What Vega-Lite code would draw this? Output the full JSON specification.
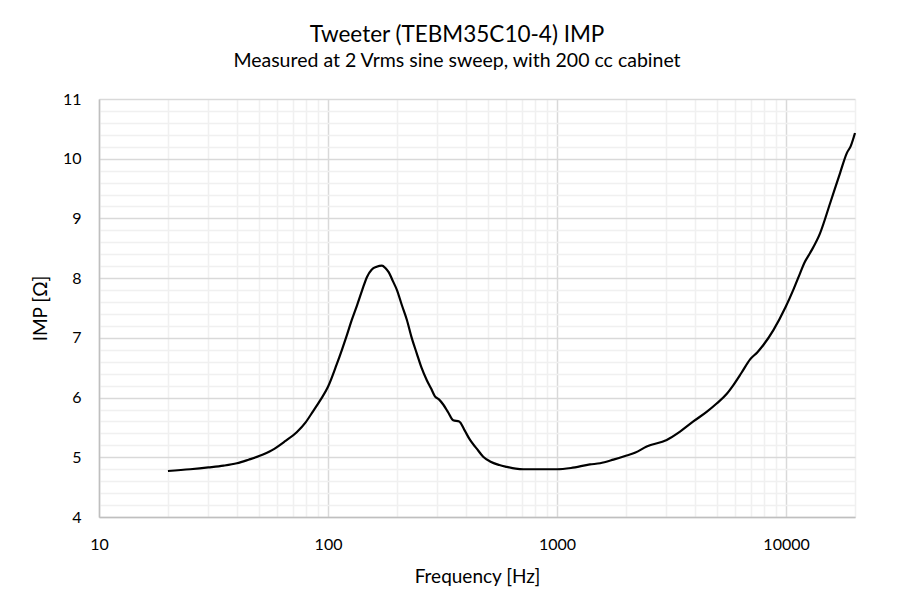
{
  "$schema": "https://vega.github.io/schema/vega-lite/v6.json",
  "description": "Tweeter impedance curve, measured at 2 Vrms.",
  "width": 756,
  "height": 418,
  "autosize": {"type": "none"},
  "padding": {"left": 99, "top": 99, "right": 50, "bottom": 97},
  "background": "white",
  "title": {
    "text": "Tweeter (TEBM35C10-4) IMP",
    "subtitle": "Measured at 2 Vrms sine sweep, with 200 cc cabinet",
    "anchor": "middle",
    "dx": -20,
    "font": "Lato",
    "fontSize": 22.5,
    "fontWeight": "normal",
    "color": "black",
    "subtitleFont": "Lato",
    "subtitleFontSize": 19.5,
    "subtitleColor": "black",
    "subtitlePadding": 5,
    "offset": 21
  },
  "data": {
    "values": [
      {"freq": 20, "imp": 4.77}, {"freq": 25, "imp": 4.80}, {"freq": 30, "imp": 4.83},
      {"freq": 35, "imp": 4.86}, {"freq": 40, "imp": 4.90}, {"freq": 45, "imp": 4.96},
      {"freq": 50, "imp": 5.02}, {"freq": 57, "imp": 5.12}, {"freq": 65, "imp": 5.27},
      {"freq": 73, "imp": 5.42}, {"freq": 80, "imp": 5.59}, {"freq": 86, "imp": 5.77},
      {"freq": 93, "imp": 5.97}, {"freq": 100, "imp": 6.18}, {"freq": 109, "imp": 6.55},
      {"freq": 115, "imp": 6.80}, {"freq": 121, "imp": 7.05}, {"freq": 127, "imp": 7.30},
      {"freq": 134, "imp": 7.55}, {"freq": 141, "imp": 7.80}, {"freq": 148, "imp": 8.02},
      {"freq": 155, "imp": 8.14}, {"freq": 163, "imp": 8.19}, {"freq": 172, "imp": 8.21},
      {"freq": 178, "imp": 8.17}, {"freq": 184, "imp": 8.10}, {"freq": 192, "imp": 7.95},
      {"freq": 200, "imp": 7.80}, {"freq": 210, "imp": 7.55}, {"freq": 221, "imp": 7.30},
      {"freq": 232, "imp": 7.00}, {"freq": 244, "imp": 6.74}, {"freq": 256, "imp": 6.50},
      {"freq": 270, "imp": 6.29}, {"freq": 282, "imp": 6.15}, {"freq": 293, "imp": 6.02},
      {"freq": 305, "imp": 5.97}, {"freq": 319, "imp": 5.88}, {"freq": 335, "imp": 5.75},
      {"freq": 352, "imp": 5.62}, {"freq": 374, "imp": 5.60}, {"freq": 395, "imp": 5.45},
      {"freq": 417, "imp": 5.29}, {"freq": 445, "imp": 5.15}, {"freq": 476, "imp": 5.01},
      {"freq": 510, "imp": 4.93}, {"freq": 560, "imp": 4.87}, {"freq": 603, "imp": 4.84},
      {"freq": 660, "imp": 4.81}, {"freq": 713, "imp": 4.80}, {"freq": 800, "imp": 4.80},
      {"freq": 900, "imp": 4.80}, {"freq": 1000, "imp": 4.80}, {"freq": 1150, "imp": 4.82},
      {"freq": 1393, "imp": 4.88}, {"freq": 1542, "imp": 4.90}, {"freq": 1762, "imp": 4.96},
      {"freq": 2014, "imp": 5.03}, {"freq": 2200, "imp": 5.08}, {"freq": 2463, "imp": 5.18},
      {"freq": 3013, "imp": 5.29}, {"freq": 3444, "imp": 5.43}, {"freq": 3937, "imp": 5.60},
      {"freq": 4500, "imp": 5.76}, {"freq": 4977, "imp": 5.90}, {"freq": 5500, "imp": 6.06},
      {"freq": 5888, "imp": 6.21}, {"freq": 6400, "imp": 6.42}, {"freq": 6966, "imp": 6.64},
      {"freq": 7500, "imp": 6.76}, {"freq": 7960, "imp": 6.88}, {"freq": 8805, "imp": 7.13},
      {"freq": 9966, "imp": 7.52}, {"freq": 10800, "imp": 7.82}, {"freq": 11510, "imp": 8.08},
      {"freq": 12000, "imp": 8.25}, {"freq": 12730, "imp": 8.42}, {"freq": 14070, "imp": 8.75},
      {"freq": 15560, "imp": 9.25}, {"freq": 17210, "imp": 9.76}, {"freq": 18400, "imp": 10.09},
      {"freq": 19200, "imp": 10.22}, {"freq": 20000, "imp": 10.43}
    ]
  },
  "mark": {"type": "line", "color": "black", "strokeWidth": 2.2, "interpolate": "monotone"},
  "encoding": {
    "x": {
      "field": "freq",
      "type": "quantitative",
      "scale": {"type": "log", "domain": [10, 20000]},
      "axis": {
        "title": "Frequency [Hz]",
        "values": [10, 20, 30, 40, 50, 60, 70, 80, 90, 100, 200, 300, 400, 500, 600, 700, 800, 900,
                   1000, 2000, 3000, 4000, 5000, 6000, 7000, 8000, 9000, 10000, 20000],
        "labelExpr": "abs(log(datum.value) / LN10 - round(log(datum.value) / LN10)) < 0.001 ? format(datum.value, 'd') : ''",
        "labelOverlap": false,
        "labelFlush": false,
        "gridColor": {
          "condition": {"test": "abs(log(datum.value) / LN10 - round(log(datum.value) / LN10)) < 0.001", "value": "#d9d9d9"},
          "value": "#f0f0f0"
        },
        "labelPadding": 19,
        "titlePadding": 15
      }
    },
    "y": {
      "field": "imp",
      "type": "quantitative",
      "scale": {"domain": [4, 11], "nice": false, "zero": false},
      "axis": {
        "title": "IMP [Ω]",
        "values": [4, 4.2, 4.4, 4.6, 4.8, 5, 5.2, 5.4, 5.6, 5.8, 6, 6.2, 6.4, 6.6, 6.8, 7, 7.2, 7.4, 7.6, 7.8,
                   8, 8.2, 8.4, 8.6, 8.8, 9, 9.2, 9.4, 9.6, 9.8, 10, 10.2, 10.4, 10.6, 10.8, 11],
        "labelExpr": "abs(datum.value - round(datum.value)) < 0.01 ? format(datum.value, 'd') : ''",
        "labelOverlap": false,
        "labelFlush": false,
        "gridColor": {
          "condition": {"test": "abs(datum.value - round(datum.value)) < 0.01", "value": "#d9d9d9"},
          "value": "#f0f0f0"
        },
        "labelPadding": 18,
        "titlePadding": 12
      }
    }
  },
  "config": {
    "view": {"stroke": null},
    "axis": {
      "ticks": false,
      "domainColor": "#bfbfbf",
      "domainWidth": 1.5,
      "gridWidth": 1.5,
      "labelFont": "Lato",
      "labelFontSize": 16,
      "labelColor": "black",
      "titleFont": "Lato",
      "titleFontSize": 19,
      "titleFontWeight": "normal",
      "titleColor": "black"
    }
  }
}
